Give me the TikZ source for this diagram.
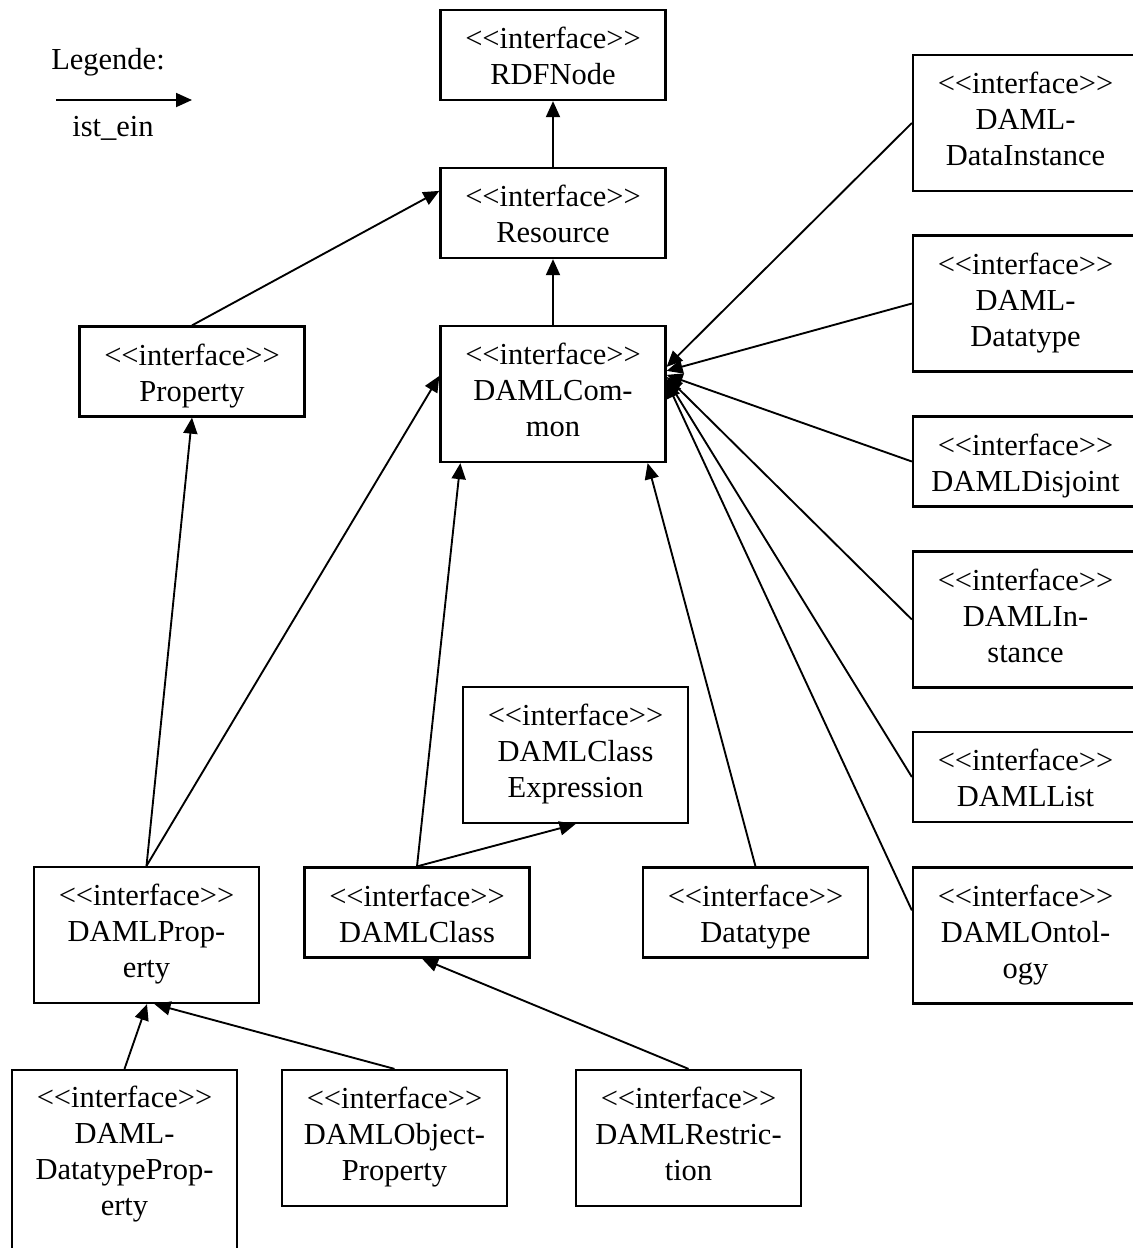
\documentclass[tikz,border=0pt]{standalone}
\usepackage{fontspec}
\setmainfont{Liberation Serif}
\usetikzlibrary{arrows.meta,calc}
% stereotype line; the empty groups keep << and >> from turning into guillemets
\newcommand\iface{<{}<interface>{}>}
\begin{document}
\begin{tikzpicture}[x=0.4pt,y=-0.4pt,
  boxfont/.style={font=\fontsize{12.2}{14.4}\selectfont},
  box/.style={draw, line width=0.9pt, inner sep=0pt, align=center,
    minimum width=90pt, boxfont, text depth=0pt},
  % text sits at the top of each box, first baseline 15.4pt below the frame
  two/.style={minimum height=36pt, text height=23.6pt},
  three/.style={minimum height=54.4pt, text height=34pt},
  txt/.style={inner sep=0pt, align=center, boxfont},
  isa/.style={line width=0.75pt, -{Triangle[length=6.4pt,width=5.6pt]}}]
\clip (0,0) rectangle (1133,1248);

% legend
\node[txt] (legtitle) at (108,62) {Legende:};
\coordinate (legA) at (56,100);
\coordinate (legB) at (192,100);
\draw[isa] (legA) -- (legB);
\node[txt] (legtext) at (113,128) {ist\_ein};

% central column
\node[box,two]   (rdf)    at (553,55)    {\iface\\RDFNode};
\node[box,two]   (res)    at (553,213)   {\iface\\Resource};
\node[box,three] (common) at (553,394)   {\iface\\DAMLCom-\\mon};
\node[box,two]   (prop)   at (192,371.5) {\iface\\Property};

% right column
\node[box,three] (dinst) at (1025.5,123)   {\iface\\DAML-\\DataInstance};
\node[box,three] (ddt)   at (1025.5,303.5) {\iface\\DAML-\\Datatype};
\node[box,two]   (disj)  at (1025.5,461.5) {\iface\\DAMLDisjoint};
\node[box,three] (inst)  at (1025.5,619.5) {\iface\\DAMLIn-\\stance};
\node[box,two]   (dlist) at (1025.5,777)   {\iface\\DAMLList};
\node[box,three] (onto)  at (1025.5,935.5) {\iface\\DAMLOntol-\\ogy};

% lower part
\node[box,three] (cexp)   at (575.5,755)  {\iface\\DAMLClass\\Expression};
\node[box,three] (dprop)  at (146.5,935)  {\iface\\DAMLProp-\\erty};
\node[box,two]   (dclass) at (417,912.5)  {\iface\\DAMLClass};
\node[box,two]   (dtype)  at (755.5,912.5){\iface\\Datatype};

% bottom row
\node[draw, line width=0.9pt, inner sep=0pt, minimum width=90pt,
      minimum height=72.8pt] (dtp) at (124.5,1161) {};
\node[txt, text height=50.4pt, text depth=0pt, anchor=north] (dtptext)
  at ($(dtp.north)+(0,20.5)$) {\iface\\DAML-\\DatatypeProp-\\erty};
\node[box,three] (objp)  at (394.5,1138) {\iface\\DAMLObject-\\Property};
\node[box,three] (restr) at (688.5,1138) {\iface\\DAMLRestric-\\tion};

% generalisations
\draw[isa] (res.north) -- (rdf.south);
\draw[isa] (common.north) -- (res.south);
\draw[isa] (prop.north) -- ($(res.north west)+(0,24)$);
\draw[isa] (dprop.north) -- (prop.south);
\draw[isa] (dprop.north) -- ($(common.north west)+(0,51)$);
\draw[isa] (dclass.north) -- ($(common.south west)+(21,0)$);
\draw[isa] (dclass.north) -- (cexp.south);
\draw[isa] (dtype.north) -- ($(common.south east)+(-19,0)$);

\draw[isa] (dinst.west) -- ($(common.north east)+(0,42)$);
\draw[isa] (ddt.west)   -- ($(common.north east)+(0,46)$);
\draw[isa] (disj.west)  -- ($(common.north east)+(0,50)$);
\draw[isa] (inst.west)  -- ($(common.north east)+(0,52)$);
\draw[isa] (dlist.west) -- ($(common.north east)+(0,54)$);
\draw[isa] ($(onto.north west)+(0,44)$) -- ($(common.north east)+(0,57)$);

\draw[isa] (dtp.north)  -- ($(dprop.south)+(0.5,0)$);
\draw[isa] (objp.north) -- ($(dprop.south)+(8,0)$);
\draw[isa] (restr.north) -- ($(dclass.south)+(5,0)$);
\end{tikzpicture}
\end{document}
